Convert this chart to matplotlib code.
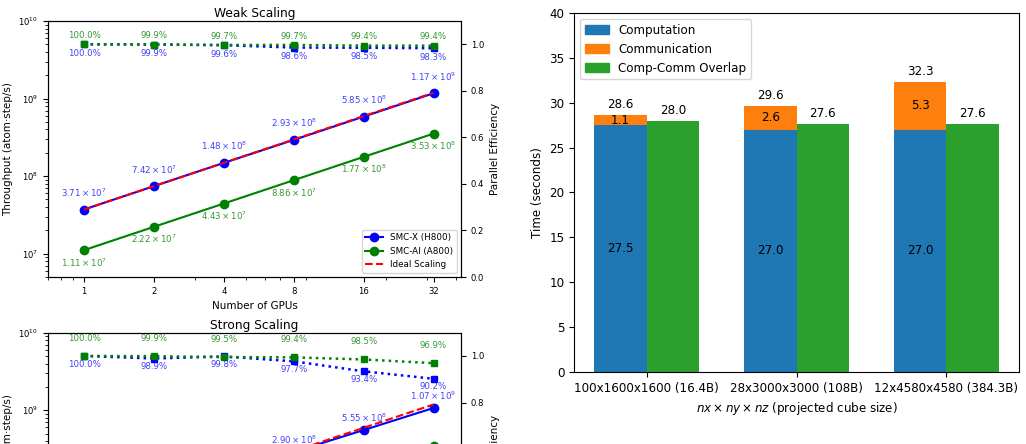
import matplotlib
matplotlib.use("Agg")
import matplotlib.pyplot as plt
from matplotlib.ticker import NullFormatter
from matplotlib.patches import Patch

# ---------------- data ----------------
gpus = [1, 2, 4, 8, 16, 32]

weak_smcx = [3.71e7, 7.42e7, 1.48e8, 2.93e8, 5.85e8, 1.17e9]
weak_smcai = [1.11e7, 2.22e7, 4.43e7, 8.86e7, 1.77e8, 3.53e8]
weak_ideal = [3.71e7, 7.42e7, 1.484e8, 2.968e8, 5.936e8, 1.1872e9]
weak_eff_smcx = [100.0, 99.9, 99.6, 98.6, 98.5, 98.3]
weak_eff_smcai = [100.0, 99.9, 99.7, 99.7, 99.4, 99.4]

strong_smcx = [3.71e7, 7.34e7, 1.48e8, 2.90e8, 5.55e8, 1.07e9]
strong_smcai = [1.11e7, 2.22e7, 4.42e7, 8.83e7, 1.75e8, 3.44e8]
strong_ideal = [3.71e7, 7.42e7, 1.484e8, 2.968e8, 5.936e8, 1.1872e9]
strong_eff_smcx = [100.0, 98.9, 99.8, 97.7, 93.4, 90.2]
strong_eff_smcai = [100.0, 99.9, 99.5, 99.4, 98.5, 96.9]

bar_categories = ["100x1600x1600 (16.4B)", "28x3000x3000 (108B)", "12x4580x4580 (384.3B)"]
computation = [27.5, 27.0, 27.0]
communication = [1.1, 2.6, 5.3]
overlap = [28.0, 27.6, 27.6]

# ---------------- figure ----------------
fig = plt.figure(figsize=(10.26, 4.44), dpi=100)

TICK = 6.1
LAB = 7.5
TITLE = 8.8
ANN = 6.2
LEG = 6.3


def sci(v):
    import math
    e = int(math.floor(math.log10(v)))
    m = v / 10 ** e
    return r"$%.2f \times 10^{%d}$" % (m, e)


def scaling_panel(rect, title, xs, ai, ideal, eff_x, eff_ai, off_bx, off_gx, off_ge, off_be, show_legend):
    ax = fig.add_axes(rect)
    ax.set_xscale("log")
    ax.set_yscale("log")
    ax.plot(gpus, xs, "o-", color="blue", label="SMC-X (H800)", ms=6, lw=1.5)
    ax.plot(gpus, ai, "o-", color="green", label="SMC-AI (A800)", ms=6, lw=1.5)
    ax.plot(gpus, ideal, "--", color="red", label="Ideal Scaling", lw=1.5)
    ax.set_xlim(0.7, 42)
    ax.set_ylim(5e6, 1e10)
    ax.set_xticks(gpus)
    ax.set_xticklabels([str(g) for g in gpus])
    ax.xaxis.set_minor_formatter(NullFormatter())
    ax.tick_params(labelsize=TICK)
    ax.set_xlabel("Number of GPUs", fontsize=LAB)
    ax.set_ylabel("Throughput (atom\u00b7step/s)", fontsize=LAB)
    ax.set_title(title, fontsize=TITLE, pad=3)
    for g, v in zip(gpus, xs):
        ax.annotate(sci(v), (g, v), xytext=(0, off_bx), textcoords="offset points",
                    ha="center", va="center", fontsize=ANN, color="blue", alpha=0.75)
    for g, v in zip(gpus, ai):
        ax.annotate(sci(v), (g, v), xytext=(0, off_gx), textcoords="offset points",
                    ha="center", va="center", fontsize=ANN, color="green", alpha=0.8)
    if show_legend:
        ax.legend(loc="lower right", fontsize=LEG)

    ax2 = ax.twinx()
    ax2.plot(gpus, [e / 100 for e in eff_x], "s:", color="blue", ms=4.5, lw=1.8)
    ax2.plot(gpus, [e / 100 for e in eff_ai], "s:", color="green", ms=4.5, lw=1.8)
    ax2.set_ylim(0, 1.1)
    ax2.set_yticks([0.0, 0.2, 0.4, 0.6, 0.8, 1.0])
    ax2.tick_params(labelsize=TICK)
    ax2.set_ylabel("Parallel Efficiency", fontsize=LAB)
    for g, e in zip(gpus, eff_ai):
        ax2.annotate("%.1f%%" % e, (g, e / 100), xytext=(0, off_ge), textcoords="offset points",
                     ha="center", va="center", fontsize=ANN, color="green", alpha=0.8)
    for g, e in zip(gpus, eff_x):
        ax2.annotate("%.1f%%" % e, (g, e / 100), xytext=(0, off_be), textcoords="offset points",
                     ha="center", va="center", fontsize=ANN, color="blue", alpha=0.75)
    return ax, ax2


scaling_panel([0.0468, 0.3761, 0.4025, 0.5766], "Weak Scaling",
              weak_smcx, weak_smcai, weak_ideal, weak_eff_smcx, weak_eff_smcai,
              12.0, -8.8, 6.3, -6.5, True)
scaling_panel([0.0468, -0.3259, 0.4025, 0.5766], "Strong Scaling",
              strong_smcx, strong_smcai, strong_ideal, strong_eff_smcx, strong_eff_smcai,
              9.0, -8.8, 12.7, -5.8, True)

# ---------------- bar chart ----------------
BF = 8.6
axb = fig.add_axes([0.5595, 0.1622, 0.4337, 0.8086])
x = list(range(len(bar_categories)))
w = 0.35
c_blue, c_orange, c_green = "#1f77b4", "#ff7f0e", "#2ca02c"
xl = [i - w / 2 for i in x]
xr = [i + w / 2 for i in x]
b1 = axb.bar(xl, computation, w, color=c_blue)
b2 = axb.bar(xl, communication, w, bottom=computation, color=c_orange)
b3 = axb.bar(xr, overlap, w, color=c_green)

for i in x:
    tot = computation[i] + communication[i]
    axb.annotate("%.1f" % tot, (xl[i], tot), xytext=(0, 3), textcoords="offset points",
                 ha="center", va="bottom", fontsize=BF)
    axb.text(xl[i], computation[i] + communication[i] / 2, "%.1f" % communication[i],
             ha="center", va="center", fontsize=BF)
    axb.text(xl[i], computation[i] / 2, "%.1f" % computation[i],
             ha="center", va="center", fontsize=BF)
    axb.annotate("%.1f" % overlap[i], (xr[i], overlap[i]), xytext=(0, 3), textcoords="offset points",
                 ha="center", va="bottom", fontsize=BF)

axb.set_ylim(0, 40)
axb.set_xticks(x)
axb.set_xticklabels(bar_categories)
axb.tick_params(labelsize=BF)
axb.set_ylabel("Time (seconds)", fontsize=BF)
axb.set_xlabel(r"$nx \times ny \times nz$ (projected cube size)", fontsize=BF)
handles = [Patch(color=c_blue, label="Computation"),
           Patch(color=c_orange, label="Communication"),
           Patch(color=c_green, label="Comp-Comm Overlap")]
axb.legend(handles=handles, loc="upper left", fontsize=BF)

fig.savefig("out.png", dpi=100)
